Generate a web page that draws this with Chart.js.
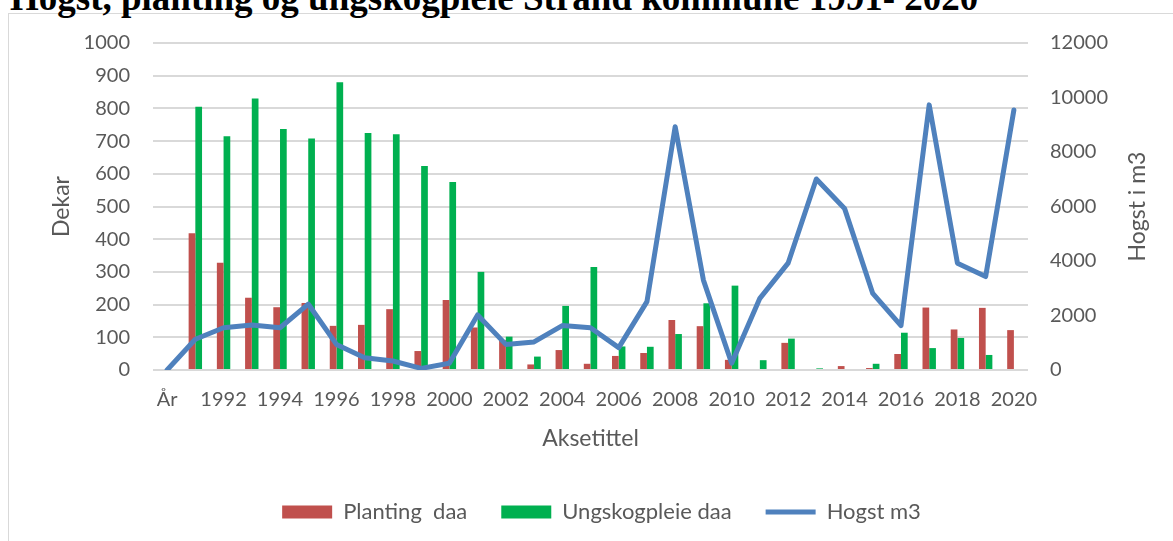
<!DOCTYPE html>
<html>
<head>
<meta charset="utf-8">
<script src="https://cdn.jsdelivr.net/npm/chart.js@4"></script>
<style>
  body { margin: 0; background: #fff; width: 1173px; height: 541px; overflow: hidden; position: relative; }
  .frame { position: absolute; left: 8px; top: 13px; width: 1400px; height: 800px; border: 1.5px solid #d9d9d9; }
  .title { position: absolute; left: 10px; top: -21px; font: bold 37px "Liberation Serif", serif; line-height: 37px; white-space: nowrap; color: #000; }
  canvas { position: absolute; left: 0; top: 0; }
</style>
</head>
<body>
<div class="frame"></div>
<div class="title">Hogst, planting og ungskogpleie Strand kommune 1991- 2020</div>
<canvas id="myChart" width="1173" height="541"></canvas>
<script>
const years = ['År', '1991', '1992', '1993', '1994', '1995', '1996', '1997', '1998', '1999', '2000',
  '2001', '2002', '2003', '2004', '2005', '2006', '2007', '2008', '2009', '2010',
  '2011', '2012', '2013', '2014', '2015', '2016', '2017', '2018', '2019', '2020'];

const planting = [null, 418, 328, 221, 192, 205, 135, 138, 186, 58, 214,
  130, 92, 17, 61, 19, 43, 52, 153, 134, 31,
  0, 83, 0, 12, 6, 49, 191, 124, 190, 122];

const ungskogpleie = [null, 805, 715, 830, 737, 708, 880, 725, 721, 624, 575,
  300, 102, 41, 196, 315, 72, 71, 110, 204, 258,
  30, 96, 5, 0, 19, 114, 67, 98, 46, 0];

const hogst = [0, 1130, 1550, 1650, 1550, 2420, 940, 450, 330, 60, 250,
  2020, 940, 1030, 1630, 1550, 820, 2510, 8930, 3300, 250,
  2630, 3920, 7010, 5930, 2810, 1630, 9730, 3920, 3430, 9540];

const grey = '#595959';
const font = 'Lato';

// right axis title reads bottom-to-top like the left one,
// and the legend keeps wide item gaps with a fixed box height
const tweaks = {
  id: 'tweaks',
  beforeLayout(chart) {
    const lg = chart.legend;
    if (lg && !lg._patched) {
      const fit = lg.fit;
      lg.fit = function () { fit.call(this); this.height = 74; };
      lg._patched = true;
    }
  },
  afterLayout(chart) {
    // excel centres the legend a little right of the canvas middle
    chart.legend.left += 30;
  },
  afterDraw(chart) {
    const ctx = chart.ctx;
    const s = chart.scales.y1;
    const area = chart.chartArea;
    ctx.save();
    ctx.translate(s.right - 35, (area.top + area.bottom) / 2);
    ctx.rotate(-Math.PI / 2);
    ctx.font = '23px ' + font;
    ctx.fillStyle = grey;
    ctx.textAlign = 'center';
    ctx.textBaseline = 'middle';
    ctx.fillText('Hogst i m3', 0, 0);
    ctx.restore();
  }
};

const config = {
  type: 'bar',
  data: {
    labels: years,
    datasets: [
      {
        label: 'Planting  daa',
        data: planting,
        backgroundColor: '#c0504d',
        borderWidth: 0,
        pointStyle: 'rect',
        yAxisID: 'y',
        order: 2
      },
      {
        label: 'Ungskogpleie daa',
        data: ungskogpleie,
        backgroundColor: '#00b050',
        borderWidth: 0,
        pointStyle: 'rect',
        yAxisID: 'y',
        order: 3
      },
      {
        type: 'line',
        label: 'Hogst m3',
        data: hogst,
        borderColor: '#4f81bd',
        backgroundColor: '#4f81bd',
        borderWidth: 5,
        borderCapStyle: 'round',
        borderJoinStyle: 'round',
        pointRadius: 0,
        pointStyle: 'line',
        tension: 0,
        yAxisID: 'y1',
        order: 1
      }
    ]
  },
  options: {
    responsive: false,
    animation: false,
    categoryPercentage: 0.475,
    barPercentage: 1,
    layout: { padding: { top: 43, bottom: 0, left: 0, right: 0 } },
    plugins: {
      tooltip: { enabled: false },
      legend: {
        position: 'bottom',
        labels: {
          usePointStyle: true,
          pointStyleWidth: 50,
          boxHeight: 13,
          padding: 34,
          color: grey,
          font: { family: font, size: 22 },
          sort: (a, b) => a.datasetIndex - b.datasetIndex
        }
      }
    },
    scales: {
      x: {
        grid: { display: false },
        border: { display: false },
        afterFit: s => { s.height = 97; },
        ticks: {
          autoSkip: false,
          maxRotation: 0,
          minRotation: 0,
          padding: 10,
          color: grey,
          font: { family: font, size: 20 },
          callback: function (v, i) { return i % 2 === 0 ? this.getLabelForValue(v) : ''; }
        },
        title: {
          display: true,
          text: 'Aksetittel',
          color: grey,
          font: { family: font, size: 23 },
          padding: { top: 0, bottom: 15 }
        }
      },
      y: {
        position: 'left',
        min: 0,
        max: 1000,
        afterFit: s => { s.width = 153; },
        grid: { color: '#d9d9d9', lineWidth: 2, drawTicks: false },
        border: { display: false },
        ticks: {
          stepSize: 100,
          padding: 23,
          color: grey,
          font: { family: font, size: 20 },
          callback: v => String(v)
        },
        title: {
          display: true,
          text: 'Dekar',
          color: grey,
          font: { family: font, size: 23 },
          padding: { top: 48, bottom: 0 }
        }
      },
      y1: {
        position: 'right',
        min: 0,
        max: 12000,
        afterFit: s => { s.width = 145; },
        grid: { display: false, drawTicks: false },
        border: { display: false },
        ticks: {
          stepSize: 2000,
          padding: 22,
          color: grey,
          font: { family: font, size: 20 },
          callback: v => String(v)
        }
      }
    }
  },
  plugins: [tweaks]
};

const myChart = new Chart(document.getElementById('myChart'), config);
</script>
</body>
</html>
